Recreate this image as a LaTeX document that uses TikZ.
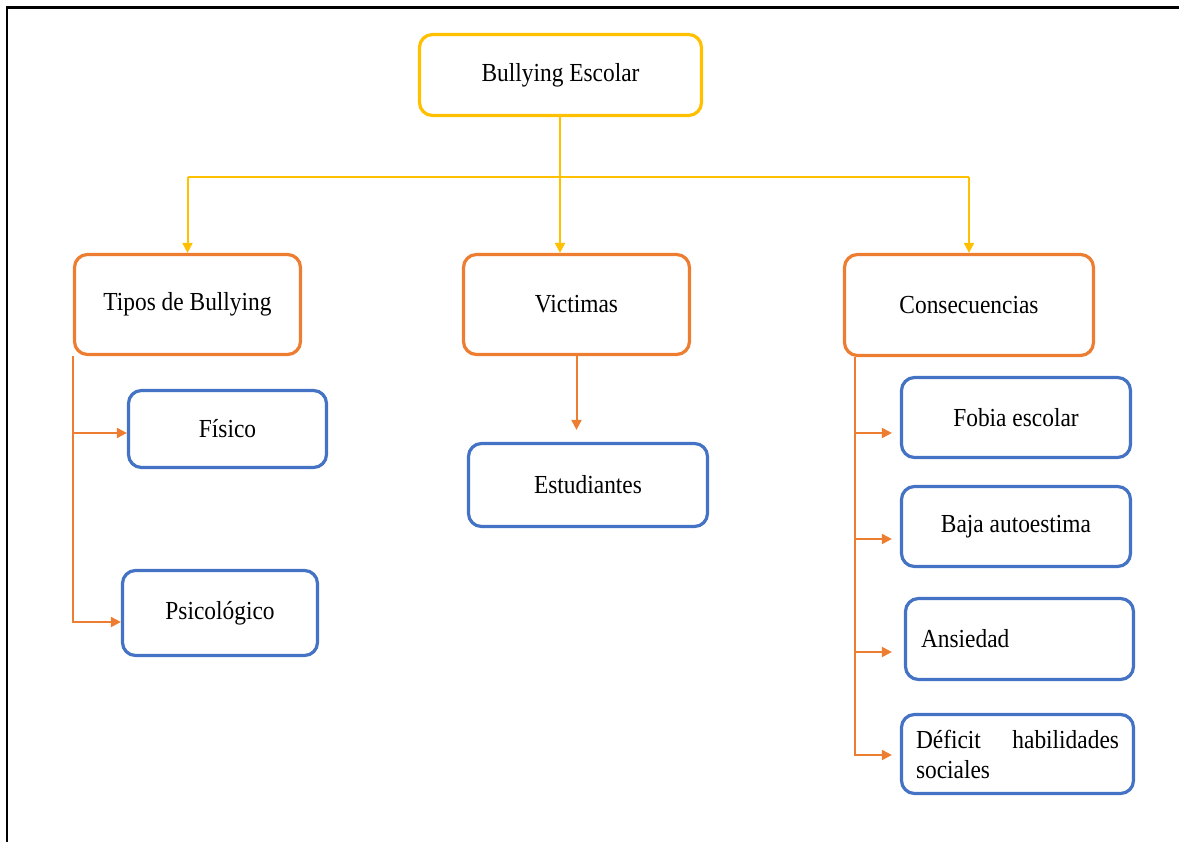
\documentclass[tikz,border=0pt]{standalone}
\usepackage{fontspec}
\setmainfont{Liberation Serif}[FakeStretch=0.9]
\usepackage{tikz}
\usetikzlibrary{arrows.meta}

\definecolor{oyellow}{HTML}{FFC000}
\definecolor{oorange}{HTML}{ED7D31}
\definecolor{oblue}{HTML}{4472C4}

\begin{document}
\begin{tikzpicture}[x=1pt, y=-1pt,
		box/.style={draw, line width=3.2pt, rounded corners=13pt, fill=white, inner sep=0pt, font=\fontsize{26}{30}\selectfont},
		topbox/.style={box, draw=oyellow},
		catbox/.style={box, draw=oorange},
		itembox/.style={box, draw=oblue},
		ylink/.style={oyellow, line width=2pt, -{Triangle[length=10pt,width=10pt]}},
		olink/.style={oorange, line width=2pt, -{Triangle[length=10pt,width=10pt]}}]
		
		\useasboundingbox (0, 0) rectangle (1179, 842);
		\draw [line width=2.5pt] (7, 842) -- (7, 7.5) -- (1179, 7.5);
		
		\node [topbox, minimum width=282pt, minimum height=81pt] (bully) at (560.5, 75) {Bullying Escolar};
		
		\node [catbox, minimum width=226pt, minimum height=100pt] (tipos) at (187.5, 304.5) {Tipos de Bullying};
		\node [catbox, minimum width=226pt, minimum height=100pt] (vict) at (576.5, 304.5) {Victimas};
		\node [catbox, minimum width=249pt, minimum height=101pt] (cons) at (969, 305) {Consecuencias};
		
		\node [itembox, minimum width=198pt, minimum height=77pt] (fis) at (227.5, 429) {Físico};
		\node [itembox, minimum width=195pt, minimum height=85pt] (psic) at (220, 613) {Psicológico};
		
		\node [itembox, minimum width=239pt, minimum height=83pt] (est) at (588, 485) {Estudiantes};
		
		\node [itembox, minimum width=229pt, minimum height=80pt] (fob) at (1016, 417.5) {Fobia escolar};
		\node [itembox, minimum width=229pt, minimum height=80pt] (baja) at (1016, 526.5) {Baja autoestima};
		\node [itembox, minimum width=228pt, minimum height=81pt, text width=197pt, inner xsep=15.5pt, align=left] (ans) at (1019.5, 639) {Ansiedad};
		\node [itembox, minimum width=232pt, minimum height=79pt, text width=203pt, inner xsep=14.5pt, align=left] (def) at (1017.5, 754) {Déficit\hfill habilidades\\sociales};
		
		\coordinate (split) at (560, 177);
		\draw [ylink] (bully.south -| split) -- (vict.north -| split);
		\draw [oyellow, line width=2pt] (split -| tipos.north) -- (split -| cons.north);
		\draw [ylink] (split -| tipos.north) -- (tipos.north);
		\draw [ylink] (split -| cons.north) -- (cons.north);
		
		\draw [olink] ([xshift=0.5pt]tipos.south west) |- ([yshift=-9pt]psic.west);
		\draw [olink] ([xshift=0.5pt]tipos.south west) |- ([yshift=-4pt]fis.west);
		
		\draw [olink, shorten >=12pt] (vict.south) -- (vict.south |- est.north);
		
		\draw [olink, shorten >=8pt] ([xshift=12.5pt]cons.south west) |- ([yshift=-15.5pt]fob.west);
		\draw [olink, shorten >=8pt] ([xshift=12.5pt]cons.south west) |- ([yshift=-12.5pt]baja.west);
		\draw [olink, shorten >=12pt] ([xshift=12.5pt]cons.south west) |- ([yshift=-13pt]ans.west);
		\draw [olink, shorten >=8pt] ([xshift=12.5pt]cons.south west) |- ([yshift=-1pt]def.west);
		
		%\draw [olink] (tipos.south) -- (fis.north);
		
		\end{tikzpicture}
\end{document}
